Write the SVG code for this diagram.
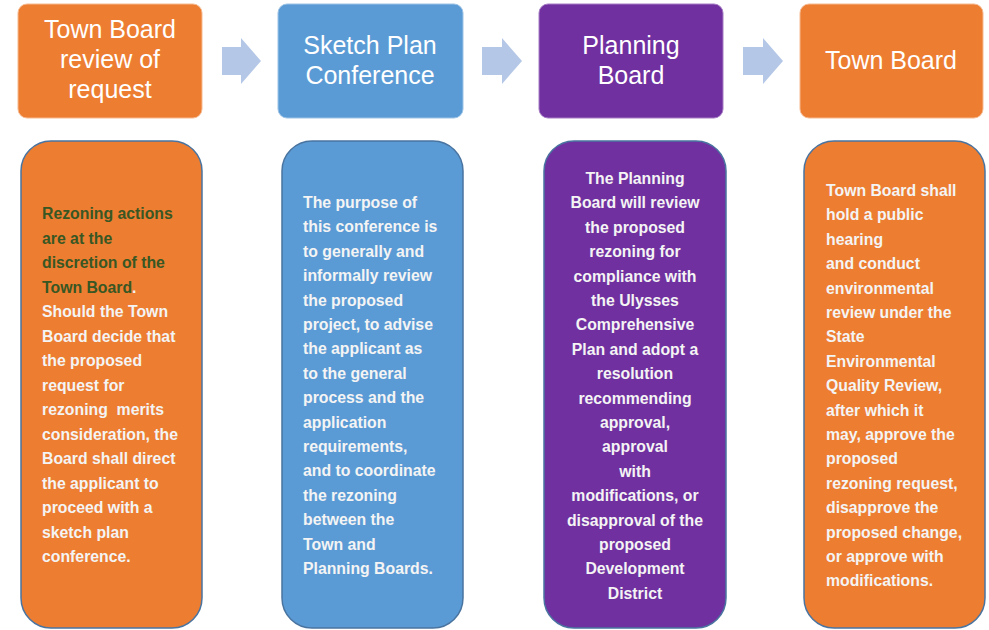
<svg xmlns="http://www.w3.org/2000/svg" width="989" height="630" viewBox="0 0 989 630">
<style>
.hd{fill:#fff;font-family:"Liberation Sans",Arial,sans-serif;font-size:25px;text-anchor:middle}
.bd{fill:#f4f4f4;font-family:"Liberation Sans",Arial,sans-serif;font-size:15.8px;font-weight:bold}
.g{fill:#385723}
.or{fill:#ed7d31}.bl{fill:#5b9bd5}.pu{fill:#7030a0}
.top{stroke:#f6b98f;stroke-width:1}
.bot{stroke:#4a74a0;stroke-width:1.5}
.arr{fill:#b4c7e7}
</style>
<rect width="989" height="630" fill="#fff"/>
<g id="connectors">
<polygon class="arr" points="222,47 241,47 241,38 261,61 241,84 241,75 222,75"/>
<polygon class="arr" points="482,47 502,47 502,38 522,61 502,84 502,75 482,75"/>
<polygon class="arr" points="743,47 763,47 763,38 783,61 763,84 763,75 743,75"/>
</g>
<g id="step1">
<rect class="or top" x="18" y="4" width="184" height="114" rx="9"/>
<text class="hd" x="110" y="38">Town Board</text>
<text class="hd" x="110" y="68">review of</text>
<text class="hd" x="110" y="98">request</text>
</g>
<g id="step2">
<rect class="bl" stroke="#9cc3e6" x="278" y="4" width="185" height="114" rx="9"/>
<text class="hd" x="370" y="54">Sketch Plan</text>
<text class="hd" x="370" y="84">Conference</text>
</g>
<g id="step3">
<rect class="pu" stroke="#a57cc4" x="539" y="4" width="184" height="114" rx="9"/>
<text class="hd" x="631" y="54">Planning</text>
<text class="hd" x="631" y="84">Board</text>
</g>
<g id="step4">
<rect class="or top" x="800" y="4" width="183" height="114" rx="9"/>
<text class="hd" x="891" y="69">Town Board</text>
</g>
<g id="detail1">
<rect class="or bot" x="21" y="141" width="181" height="487" rx="30"/>
<text class="bd" x="42" xml:space="preserve"><tspan class="g" x="42" y="219">Rezoning actions</tspan><tspan class="g" x="42" y="243.5">are at the</tspan><tspan class="g" x="42" y="268">discretion of the</tspan><tspan x="42" y="292.5"><tspan class="g">Town Board</tspan>.</tspan><tspan x="42" y="317">Should the Town</tspan><tspan x="42" y="341.5">Board decide that</tspan><tspan x="42" y="366">the proposed</tspan><tspan x="42" y="390.5">request for</tspan><tspan x="42" y="415">rezoning  merits</tspan><tspan x="42" y="439.5">consideration, the</tspan><tspan x="42" y="464">Board shall direct</tspan><tspan x="42" y="488.5">the applicant to</tspan><tspan x="42" y="513">proceed with a</tspan><tspan x="42" y="537.5">sketch plan</tspan><tspan x="42" y="562">conference.</tspan></text>
</g>
<g id="detail2">
<rect class="bl bot" x="282" y="141" width="181" height="487" rx="30"/>
<text class="bd"><tspan x="303" y="208">The purpose of</tspan><tspan x="303" y="232.4">this conference is</tspan><tspan x="303" y="256.8">to generally and</tspan><tspan x="303" y="281.2">informally review</tspan><tspan x="303" y="305.6">the proposed</tspan><tspan x="303" y="330">project, to advise</tspan><tspan x="303" y="354.4">the applicant as</tspan><tspan x="303" y="378.8">to the general</tspan><tspan x="303" y="403.2">process and the</tspan><tspan x="303" y="427.6">application</tspan><tspan x="303" y="452">requirements,</tspan><tspan x="303" y="476.4">and to coordinate</tspan><tspan x="303" y="500.8">the rezoning</tspan><tspan x="303" y="525.2">between the</tspan><tspan x="303" y="549.6">Town and</tspan><tspan x="303" y="574">Planning Boards.</tspan></text>
</g>
<g id="detail3">
<rect class="pu bot" x="544" y="141" width="182" height="487" rx="30"/>
<text class="bd" text-anchor="middle"><tspan x="635" y="184">The Planning</tspan><tspan x="635" y="208.4">Board will review</tspan><tspan x="635" y="232.8">the proposed</tspan><tspan x="635" y="257.2">rezoning for</tspan><tspan x="635" y="281.6">compliance with</tspan><tspan x="635" y="306">the Ulysses</tspan><tspan x="635" y="330.4">Comprehensive</tspan><tspan x="635" y="354.8">Plan and adopt a</tspan><tspan x="635" y="379.2">resolution</tspan><tspan x="635" y="403.6">recommending</tspan><tspan x="635" y="428">approval,</tspan><tspan x="635" y="452.4">approval</tspan><tspan x="635" y="476.8">with</tspan><tspan x="635" y="501.2">modifications, or</tspan><tspan x="635" y="525.6">disapproval of the</tspan><tspan x="635" y="550">proposed</tspan><tspan x="635" y="574.4">Development</tspan><tspan x="635" y="598.8">District</tspan></text>
</g>
<g id="detail4">
<rect class="or bot" x="804" y="141" width="181" height="487" rx="30"/>
<text class="bd"><tspan x="826" y="196">Town Board shall</tspan><tspan x="826" y="220.4">hold a public</tspan><tspan x="826" y="244.8">hearing</tspan><tspan x="826" y="269.2">and conduct</tspan><tspan x="826" y="293.6">environmental</tspan><tspan x="826" y="318">review under the</tspan><tspan x="826" y="342.4">State</tspan><tspan x="826" y="366.8">Environmental</tspan><tspan x="826" y="391.2">Quality Review,</tspan><tspan x="826" y="415.6">after which it</tspan><tspan x="826" y="440">may, approve the</tspan><tspan x="826" y="464.4">proposed</tspan><tspan x="826" y="488.8">rezoning request,</tspan><tspan x="826" y="513.2">disapprove the</tspan><tspan x="826" y="537.6">proposed change,</tspan><tspan x="826" y="562">or approve with</tspan><tspan x="826" y="586.4">modifications.</tspan></text>
</g>
</svg>
